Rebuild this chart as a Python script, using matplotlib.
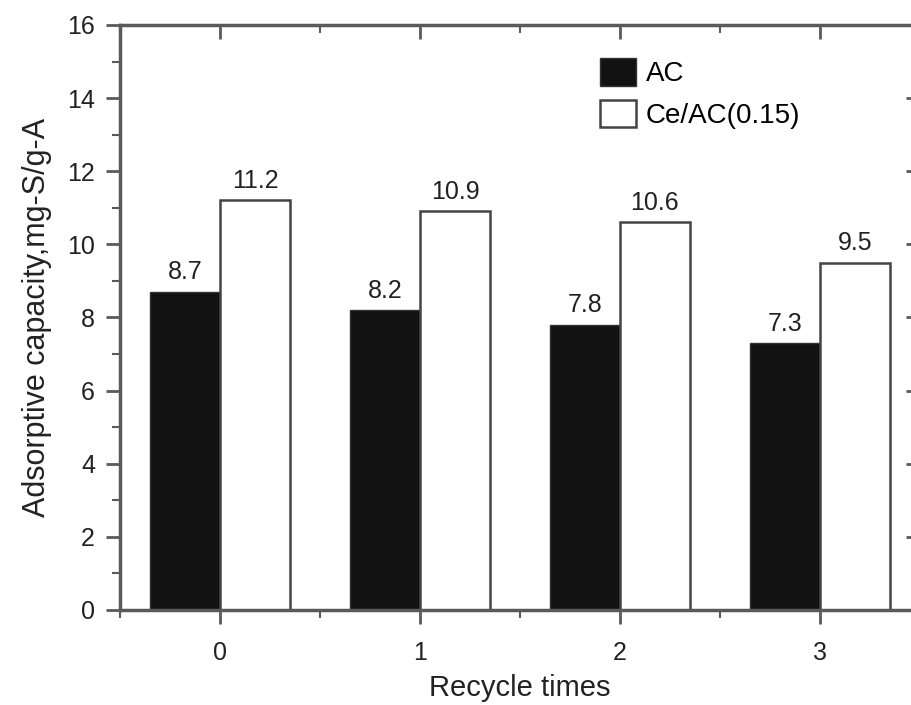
import matplotlib.pyplot as plt
import numpy as np
from matplotlib.ticker import MultipleLocator

plt.rcParams['font.family'] = ['Liberation Sans', 'DejaVu Sans']

# data
cycles = ['0', '1', '2', '3']
ac = [8.7, 8.2, 7.8, 7.3]
ce_ac = [11.2, 10.9, 10.6, 9.5]

spine_col = '#5a5a5a'
txt_col = '#222222'
x = np.arange(len(cycles))
w = 0.35

fig = plt.figure(figsize=(9.12, 7.05), dpi=100)
ax = fig.add_axes([0.1316, 0.1348, 0.877, 0.8298])

b1 = ax.bar(x - w / 2, ac, width=w, color='#121212', edgecolor='#333333', linewidth=1.0, label='AC')
b2 = ax.bar(x + w / 2, ce_ac, width=w, color='white', edgecolor='#444444', linewidth=1.8, label='Ce/AC(0.15)')

for rects, vals in ((b1, ac), (b2, ce_ac)):
    for r, v in zip(rects, vals):
        ax.annotate('%.1f' % v, (r.get_x() + r.get_width() / 2, v), xytext=(0, 9),
                    textcoords='offset points', ha='center', va='baseline', fontsize=18, color=txt_col)

ax.set_xlim(-0.5, 3.5)
ax.set_ylim(0, 16)
ax.set_xticks(x)
ax.set_xticklabels(cycles)
ax.xaxis.set_minor_locator(MultipleLocator(0.5))
ax.yaxis.set_major_locator(MultipleLocator(2))
ax.yaxis.set_minor_locator(MultipleLocator(1))

for s in ax.spines.values():
    s.set_color(spine_col)
    s.set_linewidth(2.5)

ax.tick_params(which='both', direction='out', color=spine_col, labelsize=18, labelcolor=txt_col)
ax.tick_params(which='major', length=10, width=2, pad=8)
ax.tick_params(which='minor', length=6, width=1.5)
ax.tick_params(axis='x', which='major', pad=12)
ax.tick_params(which='both', top=True, right=True)
# top/right ticks point inward
for t in ax.xaxis.get_major_ticks() + ax.xaxis.get_minor_ticks():
    t.tick2line.set_marker(3)
for t in ax.yaxis.get_major_ticks() + ax.yaxis.get_minor_ticks():
    t.tick2line.set_marker(0)

ax.set_xlabel('Recycle times', fontsize=21, color=txt_col, labelpad=7)
ax.set_ylabel('Adsorptive capacity,mg-S/g-A', fontsize=22, color=txt_col, labelpad=11)

ax.legend(loc='upper left', bbox_to_anchor=(600 / 912, 1 - 58 / 705), bbox_transform=fig.transFigure,
          frameon=False, fontsize=20, handlelength=1.3, handleheight=1.15, labelspacing=0.45,
          handletextpad=0.35, borderpad=0, borderaxespad=0)

plt.savefig('out.png', dpi=100)
